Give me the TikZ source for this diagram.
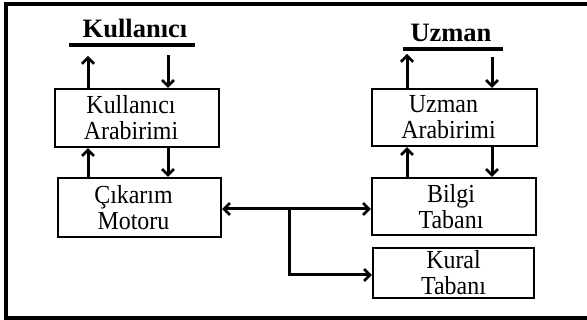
\documentclass[tikz,border=0pt]{standalone}
\usepackage{fontspec}
\setmainfont{Liberation Serif}
\newfontfamily\boxfont[FakeStretch=0.92]{Liberation Serif}
\usetikzlibrary{arrows.meta}
\newcommand{\padr}[1]{#1\hspace*{#1}}
\begin{document}
\begin{tikzpicture}[x=1pt,y=-1pt,
  box/.style={draw,line width=2.2pt,rectangle,align=center,inner sep=0pt,
    font=\boxfont\fontsize{26}{26}\selectfont},
  titletext/.style={font=\fontsize{26.5}{28}\selectfont\bfseries,inner sep=0pt},
  uline/.style={line width=4pt},
  conn/.style={line width=3pt,-{Straight Barb[length=6pt,width=12pt,line width=2.6pt]}},
  dconn/.style={line width=3pt,{Straight Barb[length=6pt,width=12pt,line width=2.6pt]}-{Straight Barb[length=6pt,width=12pt,line width=2.6pt]}},
  frame/.style={line width=4pt}]
\useasboundingbox (0,0) rectangle (587,320);
\fill[white] (0,0) rectangle (587,320);
% frame
\draw[frame] (590,4) -- (6,4) -- (6,318) -- (590,318);
% titles
\node[titletext,anchor=base] (tk) at (135,38) {Kullanıcı};
\node[titletext,anchor=base] (tu) at (451,42) {Uzman};
\coordinate (tkl) at (69,45); \coordinate (tkr) at (195,45);
\coordinate (tul) at (403,49); \coordinate (tur) at (503,49);
\draw[uline] (tkl) -- (tkr);
\draw[uline] (tul) -- (tur);
% boxes
\node[box,minimum width=164pt,minimum height=58pt] (ka) at (137,118) {Kullanıcı\hspace*{12pt}\\Arabirimi\hspace*{12pt}};
\node[box,minimum width=163pt,minimum height=59pt] (cm) at (139.5,207.5) {Çıkarım\hspace*{12pt}\\Motoru\hspace*{12pt}};
\node[box,minimum width=165pt,minimum height=57pt] (ua) at (454.5,117.5) {Uzman\hspace*{22pt}\\Arabirimi\hspace*{12pt}};
\node[box,minimum width=164pt,minimum height=57pt] (bt) at (454,206.5) {Bilgi\hspace*{6pt}\\Tabanı\hspace*{6pt}};
\node[box,minimum width=161pt,minimum height=50pt] (kt) at (453.5,273) {Kural\\Tabanı};
% arrow coordinates
\coordinate (k1) at (88,56);
\coordinate (k2) at (168,55);
\coordinate (u1) at (407,54);
\coordinate (u2) at (492,57);
\coordinate (kc1) at (88,0);
\coordinate (kc2) at (168,0);
\coordinate (ub1) at (407,0);
\coordinate (ub2) at (492,0);
\coordinate (br) at (289,209);
\coordinate (brb) at (289,275);
% top arrows
\draw[conn] (ka.north -| k1) -- (k1);
\draw[conn] (k2) -- (ka.north -| k2);
\draw[conn] (ua.north -| u1) -- (u1);
\draw[conn] (u2) -- (ua.north -| u2);
% middle arrows
\draw[conn] (cm.north -| kc1) -- (ka.south -| kc1);
\draw[conn] (ka.south -| kc2) -- (cm.north -| kc2);
\draw[conn] (bt.north -| ub1) -- (ua.south -| ub1);
\draw[conn] (ua.south -| ub2) -- (bt.north -| ub2);
% bottom connectors
\draw[dconn] (cm.east |- br) -- (bt.west |- br);
\draw[conn] (br) -- (brb) -- (kt.west |- brb);
\end{tikzpicture}
\end{document}
